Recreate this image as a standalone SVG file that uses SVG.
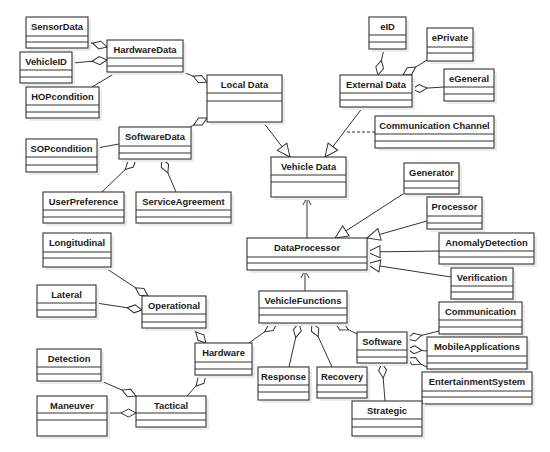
<svg xmlns="http://www.w3.org/2000/svg" width="550" height="452" viewBox="0 0 550 452">
<style>
.sh{fill:#ebebeb;stroke:none}
.bx{fill:#fff;stroke:#333;stroke-width:1.1}
.sp{stroke:#333;stroke-width:1}
.t{font-family:"Liberation Sans",Arial,sans-serif;font-weight:bold;font-size:9.4px;fill:#1a1a1a;text-anchor:middle}
.c{stroke:#333;stroke-width:1;fill:none}
.ag{marker-start:url(#dia)}
.gn{marker-end:url(#tri)}
.ar{marker-end:url(#arr)}
.ds{stroke-dasharray:3,2}
</style>
<defs>
<marker id="dia" markerUnits="userSpaceOnUse" viewBox="0 0 15 8" refX="0" refY="4" markerWidth="15" markerHeight="8" orient="auto" overflow="visible"><path d="M0,4 L7.5,0 L15,4 L7.5,8 Z" fill="#fff" stroke="#333" stroke-width="1"/></marker>
<marker id="tri" markerUnits="userSpaceOnUse" viewBox="0 0 13 12" refX="13" refY="6" markerWidth="13" markerHeight="12" orient="auto" overflow="visible"><path d="M13,6 L0,0 L0,12 Z" fill="#fff" stroke="#333" stroke-width="1"/></marker>
<marker id="arr" markerUnits="userSpaceOnUse" viewBox="0 0 8 8" refX="8" refY="4" markerWidth="8" markerHeight="8" orient="auto" overflow="visible"><path d="M0,0 L8,4 L0,8" fill="none" stroke="#333" stroke-width="1"/></marker>
</defs>
<rect width="550" height="452" fill="#fff"/>
<g id="connectors">
<line class="c ag" x1="107" y1="47" x2="88" y2="42"/>
<line class="c ag" x1="107" y1="60" x2="72" y2="63"/>
<line class="c" x1="92" y1="87" x2="117" y2="72"/>
<line class="c ag" x1="207" y1="82" x2="183" y2="72"/>
<line class="c ag" x1="207" y1="118" x2="190" y2="127"/>
<line class="c" x1="97" y1="148" x2="119" y2="144"/>
<line class="c ag" x1="136" y1="159" x2="102" y2="192"/>
<line class="c ag" x1="162" y1="159" x2="176" y2="192"/>
<line class="c gn" x1="263" y1="122" x2="290" y2="157"/>
<line class="c gn" x1="363" y1="107" x2="325" y2="157"/>
<line class="c ds" x1="375" y1="132" x2="345" y2="132"/>
<line class="c ag" x1="378" y1="75" x2="384" y2="49"/>
<line class="c ag" x1="403" y1="75" x2="427" y2="60"/>
<line class="c ag" x1="412" y1="89" x2="444" y2="87"/>
<line class="c ar" x1="307" y1="238" x2="307" y2="197"/>
<line class="c gn" x1="403" y1="194" x2="335" y2="238"/>
<line class="c gn" x1="427" y1="221" x2="367" y2="238"/>
<line class="c gn" x1="439" y1="251" x2="367" y2="252"/>
<line class="c gn" x1="451" y1="277" x2="367" y2="264"/>
<line class="c ar" x1="305" y1="291" x2="305" y2="270"/>
<line class="c ag" x1="277" y1="323" x2="249" y2="343"/>
<line class="c ag" x1="299" y1="323" x2="289" y2="367"/>
<line class="c ag" x1="312" y1="323" x2="332" y2="367"/>
<line class="c ag" x1="335" y1="323" x2="357" y2="334"/>
<line class="c ag" x1="206" y1="343" x2="192" y2="328"/>
<line class="c ag" x1="206" y1="375" x2="187" y2="396"/>
<line class="c ag" x1="148" y1="296" x2="104" y2="267"/>
<line class="c ag" x1="142" y1="310" x2="96" y2="303"/>
<line class="c ag" x1="136" y1="396" x2="101" y2="381"/>
<line class="c ag" x1="136" y1="413" x2="107" y2="413"/>
<line class="c ag" x1="382" y1="363" x2="385" y2="401"/>
<line class="c ag" x1="407" y1="339" x2="439" y2="331"/>
<line class="c ag" x1="407" y1="349" x2="427" y2="351"/>
<line class="c ag" x1="407" y1="358" x2="438" y2="372"/>
</g>
<g id="SensorData"><rect class="sh" x="29" y="20" width="62" height="31"/><rect class="bx" x="26" y="17" width="62" height="31"/><line class="sp" x1="26" y1="36" x2="88" y2="36"/><line class="sp" x1="26" y1="42" x2="88" y2="42"/><text class="t" x="57" y="30">SensorData</text></g>
<g id="HardwareData"><rect class="sh" x="110" y="43" width="76" height="32"/><rect class="bx" x="107" y="40" width="76" height="32"/><line class="sp" x1="107" y1="58" x2="183" y2="58"/><line class="sp" x1="107" y1="66" x2="183" y2="66"/><text class="t" x="145" y="53">HardwareData</text></g>
<g id="VehicleID"><rect class="sh" x="23" y="55" width="52" height="31"/><rect class="bx" x="20" y="52" width="52" height="31"/><line class="sp" x1="20" y1="70" x2="72" y2="70"/><line class="sp" x1="20" y1="77" x2="72" y2="77"/><text class="t" x="46" y="65">VehicleID</text></g>
<g id="HOPcondition"><rect class="sh" x="29" y="90" width="73" height="31"/><rect class="bx" x="26" y="87" width="73" height="31"/><line class="sp" x1="26" y1="105" x2="99" y2="105"/><line class="sp" x1="26" y1="112" x2="99" y2="112"/><text class="t" x="62.5" y="100">HOPcondition</text></g>
<g id="LocalData"><rect class="sh" x="210" y="78" width="75" height="47"/><rect class="bx" x="207" y="75" width="75" height="47"/><line class="sp" x1="207" y1="93" x2="282" y2="93"/><line class="sp" x1="207" y1="101" x2="282" y2="101"/><text class="t" x="244.5" y="88">Local Data</text></g>
<g id="SoftwareData"><rect class="sh" x="122" y="130" width="72" height="32"/><rect class="bx" x="119" y="127" width="72" height="32"/><line class="sp" x1="119" y1="146" x2="191" y2="146"/><line class="sp" x1="119" y1="153" x2="191" y2="153"/><text class="t" x="155" y="140">SoftwareData</text></g>
<g id="SOPcondition"><rect class="sh" x="29" y="142" width="71" height="33"/><rect class="bx" x="26" y="139" width="71" height="33"/><line class="sp" x1="26" y1="157" x2="97" y2="157"/><line class="sp" x1="26" y1="165" x2="97" y2="165"/><text class="t" x="61.5" y="152">SOPcondition</text></g>
<g id="UserPreference"><rect class="sh" x="46" y="195" width="81" height="31"/><rect class="bx" x="43" y="192" width="81" height="31"/><line class="sp" x1="43" y1="210" x2="124" y2="210"/><line class="sp" x1="43" y1="217" x2="124" y2="217"/><text class="t" x="83.5" y="205">UserPreference</text></g>
<g id="ServiceAgreement"><rect class="sh" x="139" y="195" width="95" height="31"/><rect class="bx" x="136" y="192" width="95" height="31"/><line class="sp" x1="136" y1="210" x2="231" y2="210"/><line class="sp" x1="136" y1="217" x2="231" y2="217"/><text class="t" x="183.5" y="205">ServiceAgreement</text></g>
<g id="Longitudinal"><rect class="sh" x="46" y="236" width="68" height="34"/><rect class="bx" x="43" y="233" width="68" height="34"/><line class="sp" x1="43" y1="252" x2="111" y2="252"/><line class="sp" x1="43" y1="258" x2="111" y2="258"/><text class="t" x="77" y="246">Longitudinal</text></g>
<g id="Lateral"><rect class="sh" x="40" y="288" width="59" height="32"/><rect class="bx" x="37" y="285" width="59" height="32"/><line class="sp" x1="37" y1="303" x2="96" y2="303"/><line class="sp" x1="37" y1="310" x2="96" y2="310"/><text class="t" x="66.5" y="298">Lateral</text></g>
<g id="Operational"><rect class="sh" x="145" y="299" width="64" height="32"/><rect class="bx" x="142" y="296" width="64" height="32"/><line class="sp" x1="142" y1="314" x2="206" y2="314"/><line class="sp" x1="142" y1="322" x2="206" y2="322"/><text class="t" x="174" y="309">Operational</text></g>
<g id="Hardware"><rect class="sh" x="198" y="346" width="57" height="32"/><rect class="bx" x="195" y="343" width="57" height="32"/><line class="sp" x1="195" y1="362" x2="252" y2="362"/><line class="sp" x1="195" y1="369" x2="252" y2="369"/><text class="t" x="223.5" y="356">Hardware</text></g>
<g id="Detection"><rect class="sh" x="40" y="352" width="64" height="32"/><rect class="bx" x="37" y="349" width="64" height="32"/><line class="sp" x1="37" y1="367" x2="101" y2="367"/><line class="sp" x1="37" y1="374" x2="101" y2="374"/><text class="t" x="69" y="362">Detection</text></g>
<g id="Maneuver"><rect class="sh" x="40" y="399" width="70" height="40"/><rect class="bx" x="37" y="396" width="70" height="40"/><line class="sp" x1="37" y1="413" x2="107" y2="413"/><line class="sp" x1="37" y1="420" x2="107" y2="420"/><text class="t" x="72" y="409">Maneuver</text></g>
<g id="Tactical"><rect class="sh" x="139" y="399" width="70" height="31"/><rect class="bx" x="136" y="396" width="70" height="31"/><line class="sp" x1="136" y1="413" x2="206" y2="413"/><line class="sp" x1="136" y1="420" x2="206" y2="420"/><text class="t" x="171" y="409">Tactical</text></g>
<g id="eID"><rect class="sh" x="372" y="20" width="37" height="32"/><rect class="bx" x="369" y="17" width="37" height="32"/><line class="sp" x1="369" y1="35" x2="406" y2="35"/><line class="sp" x1="369" y1="42" x2="406" y2="42"/><text class="t" x="387.5" y="30">eID</text></g>
<g id="ePrivate"><rect class="sh" x="430" y="31" width="46" height="33"/><rect class="bx" x="427" y="28" width="46" height="33"/><line class="sp" x1="427" y1="47" x2="473" y2="47"/><line class="sp" x1="427" y1="53" x2="473" y2="53"/><text class="t" x="450" y="41">ePrivate</text></g>
<g id="ExternalData"><rect class="sh" x="343" y="78" width="72" height="32"/><rect class="bx" x="340" y="75" width="72" height="32"/><line class="sp" x1="340" y1="93" x2="412" y2="93"/><line class="sp" x1="340" y1="100" x2="412" y2="100"/><text class="t" x="376" y="88">External Data</text></g>
<g id="eGeneral"><rect class="sh" x="447" y="72" width="50" height="32"/><rect class="bx" x="444" y="69" width="50" height="32"/><line class="sp" x1="444" y1="87" x2="494" y2="87"/><line class="sp" x1="444" y1="94" x2="494" y2="94"/><text class="t" x="469" y="82">eGeneral</text></g>
<g id="CommunicationChannel"><rect class="sh" x="378" y="119" width="119" height="32"/><rect class="bx" x="375" y="116" width="119" height="32"/><line class="sp" x1="375" y1="134" x2="494" y2="134"/><line class="sp" x1="375" y1="141" x2="494" y2="141"/><text class="t" x="434.5" y="129">Communication Channel</text></g>
<g id="VehicleData"><rect class="sh" x="274" y="160" width="75" height="40"/><rect class="bx" x="271" y="157" width="75" height="40"/><line class="sp" x1="271" y1="175" x2="346" y2="175"/><line class="sp" x1="271" y1="182" x2="346" y2="182"/><text class="t" x="308.5" y="170">Vehicle Data</text></g>
<g id="Generator"><rect class="sh" x="407" y="166" width="55" height="31"/><rect class="bx" x="404" y="163" width="55" height="31"/><line class="sp" x1="404" y1="181" x2="459" y2="181"/><line class="sp" x1="404" y1="188" x2="459" y2="188"/><text class="t" x="431.5" y="176">Generator</text></g>
<g id="Processor"><rect class="sh" x="430" y="200" width="55" height="32"/><rect class="bx" x="427" y="197" width="55" height="32"/><line class="sp" x1="427" y1="216" x2="482" y2="216"/><line class="sp" x1="427" y1="223" x2="482" y2="223"/><text class="t" x="454.5" y="210">Processor</text></g>
<g id="AnomalyDetection"><rect class="sh" x="442" y="236" width="95" height="31"/><rect class="bx" x="439" y="233" width="95" height="31"/><line class="sp" x1="439" y1="251" x2="534" y2="251"/><line class="sp" x1="439" y1="257" x2="534" y2="257"/><text class="t" x="486.5" y="246">AnomalyDetection</text></g>
<g id="Verification"><rect class="sh" x="454" y="271" width="62" height="31"/><rect class="bx" x="451" y="268" width="62" height="31"/><line class="sp" x1="451" y1="286" x2="513" y2="286"/><line class="sp" x1="451" y1="292" x2="513" y2="292"/><text class="t" x="482" y="281">Verification</text></g>
<g id="DataProcessor"><rect class="sh" x="250" y="241" width="120" height="32"/><rect class="bx" x="247" y="238" width="120" height="32"/><line class="sp" x1="247" y1="257" x2="367" y2="257"/><line class="sp" x1="247" y1="263" x2="367" y2="263"/><text class="t" x="307" y="251">DataProcessor</text></g>
<g id="VehicleFunctions"><rect class="sh" x="262" y="294" width="88" height="32"/><rect class="bx" x="259" y="291" width="88" height="32"/><line class="sp" x1="259" y1="308" x2="347" y2="308"/><line class="sp" x1="259" y1="315" x2="347" y2="315"/><text class="t" x="303" y="304">VehicleFunctions</text></g>
<g id="Communication"><rect class="sh" x="442" y="305" width="83" height="32"/><rect class="bx" x="439" y="302" width="83" height="32"/><line class="sp" x1="439" y1="320" x2="522" y2="320"/><line class="sp" x1="439" y1="327" x2="522" y2="327"/><text class="t" x="480.5" y="315">Communication</text></g>
<g id="Software"><rect class="sh" x="360" y="335" width="50" height="31"/><rect class="bx" x="357" y="332" width="50" height="31"/><line class="sp" x1="357" y1="350" x2="407" y2="350"/><line class="sp" x1="357" y1="357" x2="407" y2="357"/><text class="t" x="382" y="345">Software</text></g>
<g id="MobileApplications"><rect class="sh" x="430" y="340" width="100" height="32"/><rect class="bx" x="427" y="337" width="100" height="32"/><line class="sp" x1="427" y1="356" x2="527" y2="356"/><line class="sp" x1="427" y1="363" x2="527" y2="363"/><text class="t" x="477" y="350">MobileApplications</text></g>
<g id="EntertainmentSystem"><rect class="sh" x="425" y="375" width="110" height="32"/><rect class="bx" x="422" y="372" width="110" height="32"/><line class="sp" x1="422" y1="391" x2="532" y2="391"/><line class="sp" x1="422" y1="397" x2="532" y2="397"/><text class="t" x="477" y="385">EntertainmentSystem</text></g>
<g id="Response"><rect class="sh" x="261" y="370" width="51" height="33"/><rect class="bx" x="258" y="367" width="51" height="33"/><line class="sp" x1="258" y1="385" x2="309" y2="385"/><line class="sp" x1="258" y1="392" x2="309" y2="392"/><text class="t" x="283.5" y="380">Response</text></g>
<g id="Recovery"><rect class="sh" x="320" y="370" width="50" height="31"/><rect class="bx" x="317" y="367" width="50" height="31"/><line class="sp" x1="317" y1="385" x2="367" y2="385"/><line class="sp" x1="317" y1="392" x2="367" y2="392"/><text class="t" x="342" y="380">Recovery</text></g>
<g id="Strategic"><rect class="sh" x="355" y="404" width="70" height="35"/><rect class="bx" x="352" y="401" width="70" height="35"/><line class="sp" x1="352" y1="419" x2="422" y2="419"/><line class="sp" x1="352" y1="427" x2="422" y2="427"/><text class="t" x="387" y="414">Strategic</text></g>
</svg>
